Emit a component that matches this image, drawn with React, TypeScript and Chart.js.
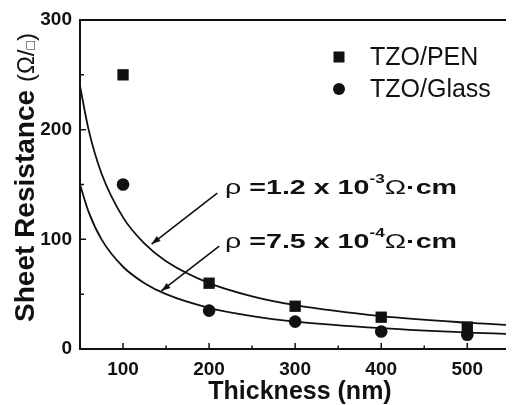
import React, { useEffect, useRef } from "react";
import { Chart, registerables } from "chart.js";

Chart.register(...registerables);

// Measured data
const thicknessNm = [100, 200, 300, 400, 500];
const penResistance = [250, 60, 39, 29, 20];
const glassResistance = [150, 35, 25, 16, 13];

// Fit curves
const fitThickness = [50, 60, 75, 100, 125, 150, 200, 250, 300, 400, 500, 545];
const fitPen = [240, 200, 160, 120, 96, 80, 60, 48, 40, 30, 24, 22];
const fitGlass = [150, 125, 100, 75, 60, 50, 37.5, 30, 25, 19, 15, 13.8];

const xTicks = [100, 200, 300, 400, 500];
const xMinorTicks = [150, 250, 350, 450];
const yTicks = [0, 100, 200, 300];
const yMinorTicks = [50, 150, 250];

const seriesLabels = ["TZO/PEN", "TZO/Glass"];

const FAMILY = "'Liberation Sans', Arial, Helvetica, sans-serif";
const INK = "#111111";

type Seg = { text: string; font: string; dy?: number };

function drawRich(ctx: CanvasRenderingContext2D, x: number, y: number, segs: Seg[], targetWidth?: number) {
  let total = 0;
  const widths: number[] = [];
  for (const s of segs) {
    ctx.font = s.font;
    const w = ctx.measureText(s.text).width;
    widths.push(w);
    total += w;
  }
  const sx = targetWidth ? targetWidth / total : 1;
  ctx.save();
  ctx.translate(x, y);
  ctx.scale(sx, 1);
  ctx.textAlign = "left";
  ctx.textBaseline = "alphabetic";
  let cx = 0;
  segs.forEach((s, i) => {
    ctx.font = s.font;
    ctx.fillText(s.text, cx, s.dy || 0);
    cx += widths[i];
  });
  ctx.restore();
}

function arrow(ctx: CanvasRenderingContext2D, x0: number, y0: number, x1: number, y1: number) {
  ctx.beginPath();
  ctx.moveTo(x0, y0);
  ctx.lineTo(x1, y1);
  ctx.stroke();
  const a = Math.atan2(y1 - y0, x1 - x0);
  const L = 9;
  const W = 3.2;
  ctx.beginPath();
  ctx.moveTo(x1, y1);
  ctx.lineTo(x1 - L * Math.cos(a) + W * Math.sin(a), y1 - L * Math.sin(a) - W * Math.cos(a));
  ctx.lineTo(x1 - L * Math.cos(a) - W * Math.sin(a), y1 - L * Math.sin(a) + W * Math.cos(a));
  ctx.closePath();
  ctx.fill();
}

const decorPlugin = {
  id: "decor",
  afterDraw(chart: any) {
    const ctx: CanvasRenderingContext2D = chart.ctx;
    const { left, right, top, bottom } = chart.chartArea;
    const xs = chart.scales.x;
    const ys = chart.scales.y;
    ctx.save();
    ctx.strokeStyle = INK;
    ctx.fillStyle = INK;

    // frame: left, bottom, top
    ctx.lineWidth = 2;
    ctx.beginPath();
    ctx.moveTo(right, top);
    ctx.lineTo(left, top);
    ctx.lineTo(left, bottom);
    ctx.lineTo(right, bottom);
    ctx.stroke();

    // inward ticks
    ctx.lineWidth = 1.5;
    ctx.beginPath();
    for (const v of xTicks) {
      const p = xs.getPixelForValue(v);
      ctx.moveTo(p, bottom);
      ctx.lineTo(p, bottom - 6);
    }
    for (const v of xMinorTicks) {
      const p = xs.getPixelForValue(v);
      ctx.moveTo(p, bottom);
      ctx.lineTo(p, bottom - 3.5);
    }
    for (const v of yTicks) {
      const p = ys.getPixelForValue(v);
      ctx.moveTo(left, p);
      ctx.lineTo(left + 6, p);
    }
    for (const v of yMinorTicks) {
      const p = ys.getPixelForValue(v);
      ctx.moveTo(left, p);
      ctx.lineTo(left + 4, p);
    }
    ctx.stroke();

    // x title
    ctx.font = `bold 25px ${FAMILY}`;
    ctx.textAlign = "center";
    ctx.textBaseline = "alphabetic";
    ctx.fillText("Thickness (nm)", 300, 399);

    // y title
    ctx.save();
    ctx.translate(34, 322);
    ctx.rotate(-Math.PI / 2);
    drawRich(
      ctx,
      0,
      0,
      [
        { text: "Sheet Resistance ", font: `bold 28px ${FAMILY}` },
        { text: "(Ω/", font: `24px ${FAMILY}` },
        { text: "□", font: `14px ${FAMILY}`, dy: 1 },
        { text: ")", font: `24px ${FAMILY}` },
      ],
      289
    );
    ctx.restore();

    // legend
    const lx = 339;
    ctx.fillRect(lx - 5.5, 57 - 5.5, 11, 11);
    ctx.beginPath();
    ctx.arc(lx, 89, 6, 0, Math.PI * 2);
    ctx.fill();
    ctx.font = `25px ${FAMILY}`;
    ctx.textAlign = "left";
    ctx.fillText(seriesLabels[0], 370, 65);
    ctx.fillText(seriesLabels[1], 370, 97);

    // annotations (positioned in data coordinates)
    ctx.lineWidth = 1.6;
    arrow(ctx, xs.getPixelForValue(209.5), ys.getPixelForValue(142.2), xs.getPixelForValue(133.2), ys.getPixelForValue(95.7));
    arrow(ctx, xs.getPixelForValue(211.8), ys.getPixelForValue(93.9), xs.getPixelForValue(144.6), ys.getPixelForValue(52.9));

    const tx = xs.getPixelForValue(218.5);
    drawRich(
      ctx,
      tx,
      ys.getPixelForValue(141.3),
      [
        { text: "ρ ", font: `20px ${FAMILY}` },
        { text: "=1.2 x 10", font: `bold 20px ${FAMILY}` },
        { text: "-3", font: `bold 12px ${FAMILY}`, dy: -11 },
        { text: "Ω", font: `20px ${FAMILY}` },
        { text: "·cm", font: `bold 20px ${FAMILY}` },
      ],
      232
    );
    drawRich(
      ctx,
      tx,
      ys.getPixelForValue(92.1),
      [
        { text: "ρ ", font: `20px ${FAMILY}` },
        { text: "=7.5 x 10", font: `bold 20px ${FAMILY}` },
        { text: "-4", font: `bold 12px ${FAMILY}`, dy: -11 },
        { text: "Ω", font: `20px ${FAMILY}` },
        { text: "·cm", font: `bold 20px ${FAMILY}` },
      ],
      232
    );
    ctx.restore();
  },
};

export default function App() {
  const ref = useRef<HTMLCanvasElement | null>(null);

  useEffect(() => {
    if (!ref.current) return;
    const fitLine = (ys: number[]) => fitThickness.map((x, i) => ({ x, y: ys[i] }));
    const pts = (ys: number[]) => thicknessNm.map((x, i) => ({ x, y: ys[i] }));

    const chart = new Chart(ref.current, {
      type: "scatter",
      data: {
        datasets: [
          {
            label: "fit PEN",
            data: fitLine(fitPen),
            showLine: true,
            pointRadius: 0,
            borderColor: INK,
            borderWidth: 1.8,
            cubicInterpolationMode: "monotone",
          },
          {
            label: "fit Glass",
            data: fitLine(fitGlass),
            showLine: true,
            pointRadius: 0,
            borderColor: INK,
            borderWidth: 1.8,
            cubicInterpolationMode: "monotone",
          },
          {
            label: seriesLabels[0],
            data: pts(penResistance),
            pointStyle: "rect",
            pointRadius: 8,
            backgroundColor: INK,
            borderColor: INK,
            borderWidth: 0,
          },
          {
            label: seriesLabels[1],
            data: pts(glassResistance),
            pointStyle: "circle",
            pointRadius: 6.3,
            backgroundColor: INK,
            borderColor: INK,
            borderWidth: 0,
          },
        ],
      },
      options: {
        responsive: false,
        animation: false,
        layout: { padding: { top: 20, right: 0, left: 0, bottom: 0 } },
        plugins: { legend: { display: false }, tooltip: { enabled: false } },
        scales: {
          x: {
            type: "linear",
            min: 50,
            max: 545,
            grid: { display: false, drawTicks: false },
            border: { display: false },
            afterBuildTicks: (s: any) => {
              s.ticks = xTicks.map((v) => ({ value: v }));
            },
            afterFit: (s: any) => {
              s.height = 56;
            },
            ticks: {
              padding: 9,
              color: INK,
              font: { family: FAMILY, size: 19, weight: "bold" },
              maxRotation: 0,
            },
          },
          y: {
            type: "linear",
            min: 0,
            max: 300,
            grid: { display: false, drawTicks: false },
            border: { display: false },
            afterBuildTicks: (s: any) => {
              s.ticks = yTicks.map((v) => ({ value: v }));
            },
            afterFit: (s: any) => {
              s.width = 80;
            },
            ticks: {
              padding: 8,
              color: INK,
              font: { family: FAMILY, size: 19, weight: "bold" },
            },
          },
        },
      },
      plugins: [decorPlugin],
    } as any);
    return () => chart.destroy();
  }, []);

  return (
    <div style={{ position: "absolute", left: 0, top: 0, width: 514, height: 405, background: "#fff", overflow: "hidden" }}>
      <canvas ref={ref} width={514} height={405} style={{ width: 514, height: 405, display: "block" }} />
    </div>
  );
}
